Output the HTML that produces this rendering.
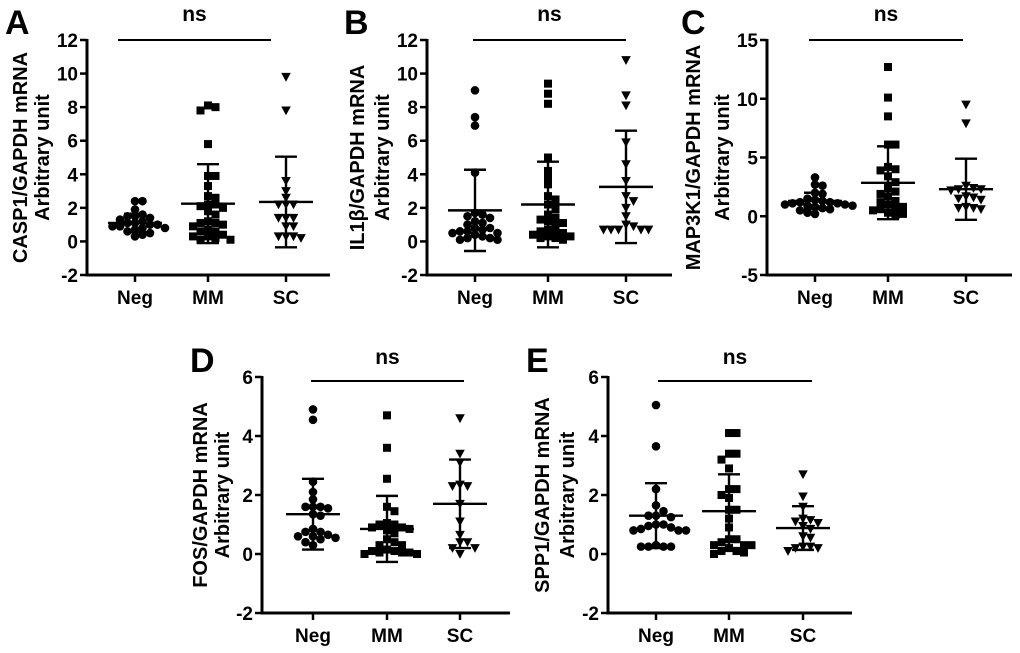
<!DOCTYPE html>
<html><head><meta charset="utf-8"><style>
html,body{margin:0;padding:0;background:#fff;}
svg{display:block;font-family:"Liberation Sans",Arial,sans-serif;font-weight:bold;}
</style></head><body>
<svg id="chart" width="1020" height="653" viewBox="0 0 1020 653"></svg>
<script>
const categories = ["Neg","MM","SC"];
const A_neg=[2.4,2.4,1.9,1.6,1.5,1.5,1.4,1.3,1.2,1.1,1.1,1.0,1.0,0.9,0.9,0.8,0.8,0.7,0.6,0.5,0.4,0.3];
const A_mm=[8.1,7.8,8.0,5.8,3.9,3.9,3.3,2.7,2.6,2.2,2.2,2.1,2.0,1.8,1.6,1.2,1.1,1.1,1.0,0.9,0.7,0.6,0.6,0.4,0.3,0.3,0.2,0.1,0.1];
const A_sc=[9.8,7.8,3.6,3.0,2.6,2.2,2.2,2.2,1.4,1.4,1.4,0.9,0.9,0.3,0.3,0.3,0.2];
const A_mean=[1.1,2.25,2.35], A_sd=[0.55,2.35,2.7];
const B_neg=[9.0,7.4,6.9,4.1,1.7,1.6,1.5,1.4,1.2,1.1,1.0,0.8,0.8,0.7,0.6,0.6,0.5,0.5,0.4,0.3,0.2,0.2,0.1,0.1];
const B_mm=[9.4,8.8,8.2,5.0,4.2,3.8,3.4,2.7,2.5,2.2,1.9,1.6,1.4,1.3,1.2,1.1,1.0,0.7,0.6,0.6,0.5,0.4,0.3,0.3,0.2,0.2,0.1];
const B_sc=[10.8,8.7,8.1,5.9,4.6,3.6,2.7,2.4,2.0,1.5,1.0,0.9,0.7,0.7,0.7,0.7,0.7];
const B_mean=[1.85,2.2,3.25], B_sd=[2.42,2.55,3.35];
const C_neg=[3.3,2.6,2.7,2.0,1.9,1.5,1.4,1.3,1.2,1.2,1.1,1.1,1.0,1.0,0.9,0.9,0.8,0.7,0.6,0.5,0.3,0.2];
const C_mm=[12.7,10.1,8.5,6.1,6.1,4.2,4.0,3.9,3.4,2.9,2.4,2.1,1.9,1.7,1.3,1.2,1.0,0.8,0.7,0.6,0.5,0.3,0.2,0.1];
const C_sc=[9.5,7.9,2.6,2.4,2.3,2.3,2.2,1.7,1.6,1.5,1.4,0.8,0.7,0.6,0.7];
const C_mean=[1.3,2.85,2.3], C_sd=[0.7,3.1,2.6];
const D_neg=[4.9,4.55,2.45,2.1,1.85,1.6,1.6,1.6,1.55,1.35,1.3,0.85,0.75,0.75,0.65,0.6,0.6,0.55,0.5,0.4,0.3];
const D_mm=[4.7,3.6,2.55,1.6,1.45,1.05,1.0,1.0,0.9,0.9,0.85,0.8,0.7,0.5,0.4,0.3,0.3,0.15,0.1,0.1,0.05,0.05,0.05,0.0,0.0];
const D_sc=[4.6,3.4,3.1,2.35,2.3,2.3,1.7,1.1,0.65,0.4,0.4,0.2,0.2,0.0];
const D_mean=[1.35,0.85,1.7], D_sd=[1.2,1.12,1.5];
const E_neg=[5.05,3.65,2.2,1.65,1.45,1.3,1.3,1.25,1.0,1.0,0.95,0.9,0.85,0.8,0.8,0.8,0.3,0.25,0.25,0.25,0.25];
const E_mm=[4.1,4.1,3.4,3.4,3.2,2.9,2.2,2.2,2.0,1.9,1.5,1.5,1.2,0.9,0.5,0.5,0.4,0.3,0.3,0.3,0.2,0.1,0.1,0.05,0.0];
const E_sc=[2.7,1.95,1.6,1.2,1.15,1.1,1.05,0.95,0.85,0.6,0.55,0.25,0.25,0.2,0.2,0.1];
const E_mean=[1.3,1.45,0.88], E_sd=[1.1,1.25,0.74];
const tickA=[-2,0,2,4,6,8,10,12], tickC=[-5,0,5,10,15], tickD=[-2,0,2,4,6];

const NS="http://www.w3.org/2000/svg";
const svg=document.getElementById('chart');
function mk(tag,attrs,parent){const e=document.createElementNS(NS,tag);for(const k in attrs)e.setAttribute(k,attrs[k]);(parent||svg).appendChild(e);return e;}

const panels=[
 {id:'a',letter:'A',lx:5,ly:34,ax:87,top:40,bot:275,xend:330,min:-2,max:12,ticks:tickA,cx:[135,208,286],br:[118,271],brY:40,nsY:21,title:'CASP1/GAPDH mRNA',t1:-67,t2:-45,data:[A_neg,A_mm,A_sc],mean:A_mean,sd:A_sd},
 {id:'b',letter:'B',lx:344,ly:34,ax:427,top:40,bot:275,xend:672,min:-2,max:12,ticks:tickA,cx:[475,548,626],br:[473,626],brY:40,nsY:21,title:'IL1\u03B2/GAPDH mRNA',t1:-70,t2:-45,data:[B_neg,B_mm,B_sc],mean:B_mean,sd:B_sd},
 {id:'c',letter:'C',lx:681,ly:34,ax:767,top:40,bot:275,xend:1012,min:-5,max:15,ticks:tickC,cx:[815,888,966],br:[809,963],brY:40,nsY:21,title:'MAP3K1/GAPDH mRNA',t1:-74,t2:-45,data:[C_neg,C_mm,C_sc],mean:C_mean,sd:C_sd},
 {id:'d',letter:'D',lx:190,ly:372,ax:262,top:377,bot:613,xend:510,min:-2,max:6,ticks:tickD,cx:[313,387,460],br:[311,464],brY:381,nsY:364,title:'FOS/GAPDH mRNA',t1:-62,t2:-40,data:[D_neg,D_mm,D_sc],mean:D_mean,sd:D_sd},
 {id:'e',letter:'E',lx:526,ly:372,ax:608,top:377,bot:613,xend:852,min:-2,max:6,ticks:tickD,cx:[656,729,803],br:[658,812],brY:381,nsY:364,title:'SPP1/GAPDH mRNA',t1:-66,t2:-41,data:[E_neg,E_mm,E_sc],mean:E_mean,sd:E_sd}
];

function marker(shape,x,y,g){
  const s=4;
  if(shape===0) return mk('circle',{cx:x,cy:y,r:s+0.3,fill:'#000'},g);
  if(shape===1) return mk('rect',{x:x-s,y:y-s,width:2*s,height:2*s,fill:'#000'},g);
  return mk('polygon',{points:`${x-s-0.8},${y-s} ${x+s+0.8},${y-s} ${x},${y+s+0.8}`,fill:'#000'},g);
}

panels.forEach(p=>{
  const g=mk('g',{});
  
  
  const Y=v=>p.bot-(v-p.min)/(p.max-p.min)*(p.bot-p.top);
  const L=mk('text',{x:p.lx,y:p.ly,'font-size':34,fill:'#000'},g);L.textContent=p.letter;
  
  
  const ya=mk('line',{x1:p.ax,y1:p.top-1,x2:p.ax,y2:p.bot+1.5,stroke:'#000','stroke-width':3},g);
  
  
  const xa=mk('line',{x1:p.ax-1.5,y1:p.bot,x2:p.xend,y2:p.bot,stroke:'#000','stroke-width':3},g);
  
  
  p.ticks.forEach(t=>{
    mk('line',{x1:p.ax-7,y1:Y(t),x2:p.ax,y2:Y(t),stroke:'#000','stroke-width':2.5},g);
    const tx=mk('text',{x:p.ax-9,y:Y(t)+7,'font-size':19,'text-anchor':'end'},g);tx.textContent=t;
    
    
  });
  categories.forEach((c,i)=>{
    mk('line',{x1:p.cx[i],y1:p.bot,x2:p.cx[i],y2:p.bot+7,stroke:'#000','stroke-width':2.5},g);
    const tx=mk('text',{x:p.cx[i],y:p.bot+29,'font-size':19,'text-anchor':'middle'},g);tx.textContent=c;
    
    
  });
  const cy=(p.top+p.bot)/2;
  [[p.title,p.t1],['Arbitrary unit',p.t2]].forEach(([s,o])=>{
    const tx=mk('text',{x:p.ax+o,y:cy,'font-size':20,'text-anchor':'middle',transform:`rotate(-90 ${p.ax+o} ${cy})`,dy:7},g);
    tx.textContent=s;
    
    
  });
  const br=mk('line',{x1:p.br[0],y1:p.brY,x2:p.br[1],y2:p.brY,stroke:'#000','stroke-width':2},g);
  
  
  const ns=mk('text',{x:(p.br[0]+p.br[1])/2,y:p.nsY,'font-size':21,'text-anchor':'middle'},g);ns.textContent='ns';
  
  
  p.data.forEach((arr,i)=>{
    const placed=[];
    const sorted=arr.slice().sort((a,b)=>b-a);
    sorted.forEach(v=>{
      const y=Y(v);let dx=0;
      for(let k=0;k<40;k++){
        const cand=k===0?0:(k%2?1:-1)*Math.ceil(k/2)*7.5;
        if(placed.every(q=>Math.hypot(q[0]-cand,q[1]-y)>=6.5)){dx=cand;break;}
      }
      placed.push([dx,y]);
      const m=marker(i,p.cx[i]+dx,y,g);
      
      
    });
    const x=p.cx[i],m=p.mean[i],s=p.sd[i];
    const eb=mk('g',{stroke:'#000','stroke-width':2.4},g);
    
    
    mk('line',{x1:x,y1:Y(m+s),x2:x,y2:Y(m-s)},eb);
    mk('line',{x1:x-11,y1:Y(m+s),x2:x+11,y2:Y(m+s)},eb);
    mk('line',{x1:x-11,y1:Y(m-s),x2:x+11,y2:Y(m-s)},eb);
    mk('line',{x1:x-27,y1:Y(m),x2:x+27,y2:Y(m)},eb);
  });
});
</script>
</body></html>
